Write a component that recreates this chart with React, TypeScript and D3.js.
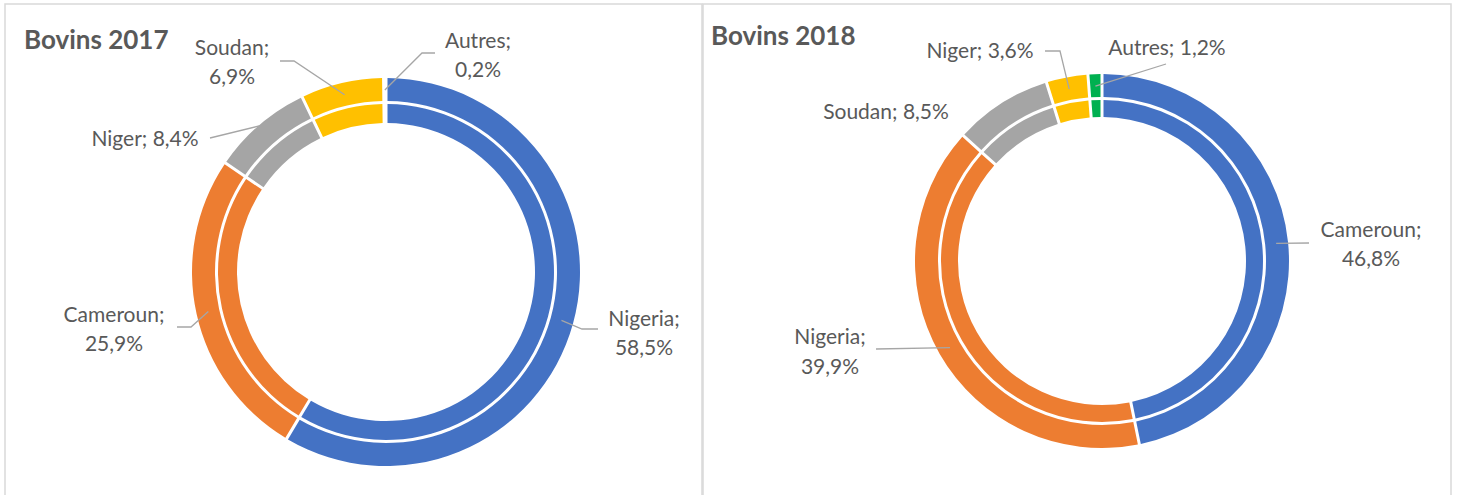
import React from "react";
import * as d3 from "d3";

// ---- Data ----
const categories2017 = ["Nigeria", "Cameroun", "Niger", "Soudan", "Autres"];
const values2017 = [58.5, 25.9, 8.4, 6.9, 0.2];
const labels2017 = ["58,5%", "25,9%", "8,4%", "6,9%", "0,2%"];

const categories2018 = ["Cameroun", "Nigeria", "Soudan", "Niger", "Autres"];
const values2018 = [46.8, 39.9, 8.5, 3.6, 1.2];
const labels2018 = ["46,8%", "39,9%", "8,5%", "3,6%", "1,2%"];

const titles = ["Bovins 2017", "Bovins 2018"];

// ---- Styles / layout ----
const sliceColors = ["#4472C4", "#ED7D31", "#A5A5A5", "#FFC000", "#00B050"];
const textColor = "#595959";
const leaderColor = "#A6A6A6";
const font = "Lato, 'Open Sans', sans-serif";

type LabelLayout = {
  x: number;
  ys: number[];
  twoLines: boolean;
  leader: [number, number][] | null;
  leaderR?: number;
};

const panels = [
  {
    x0: 5, x1: 702, cx: 386, cy: 272,
    outer: [171, 194], inner: [149, 168], leaderR: 182,
    titleX: 24, titleY: 49,
    categories: categories2017, values: values2017, pct: labels2017,
    layout: [
      { x: 644, ys: [326, 355], twoLines: true, leader: [[598, 329], [582, 329]] },
      { x: 114, ys: [322, 351], twoLines: true, leader: [[177, 327], [191, 327]] },
      { x: 145, ys: [146], twoLines: false, leader: [[210, 138]], leaderR: 193 },
      { x: 232, ys: [55, 84], twoLines: true, leader: [[280, 61], [294, 61]] },
      { x: 478, ys: [48, 77], twoLines: true, leader: [[435, 53], [422, 53]] },
    ] as LabelLayout[],
  },
  {
    x0: 703, x1: 1451, cx: 1102, cy: 261,
    outer: [164, 187], inner: [144, 161], leaderR: 175,
    titleX: 711, titleY: 45,
    categories: categories2018, values: values2018, pct: labels2018,
    layout: [
      { x: 1371, ys: [237, 266], twoLines: true, leader: [[1309, 243]] },
      { x: 830, ys: [344, 374], twoLines: true, leader: [[876, 349]] },
      { x: 886, ys: [119], twoLines: false, leader: null },
      { x: 980, ys: [58], twoLines: false, leader: [[1045, 51], [1060, 51]] },
      { x: 1167, ys: [55], twoLines: false, leader: [[1166, 64]] },
    ] as LabelLayout[],
  },
];

function Donut({ p }: { p: (typeof panels)[number] }) {
  const pie = d3
    .pie<number>()
    .sort(null)
    .value((d) => d);
  const arcsData = pie(p.values);
  const R = p.outer[1];
  const outerArc = d3
    .arc<d3.PieArcDatum<number>>()
    .innerRadius(p.outer[0])
    .outerRadius(p.outer[1])
    .padAngle(3 / R)
    .padRadius(R);
  const innerArc = d3
    .arc<d3.PieArcDatum<number>>()
    .innerRadius(p.inner[0])
    .outerRadius(p.inner[1])
    .padAngle(3 / R)
    .padRadius(R);

  return (
    <g>
      <g transform={`translate(${p.cx},${p.cy})`}>
        {arcsData.map((a, i) => (
          <path key={"o" + i} d={outerArc(a) || ""} fill={sliceColors[i]} />
        ))}
        {arcsData.map((a, i) => (
          <path key={"i" + i} d={innerArc(a) || ""} fill={sliceColors[i]} />
        ))}
      </g>
      {arcsData.map((a, i) => {
        const L = p.layout[i];
        if (!L.leader) return null;
        const mid = (a.startAngle + a.endAngle) / 2;
        const r = L.leaderR ?? p.leaderR;
        const ex = p.cx + r * Math.sin(mid);
        const ey = p.cy - r * Math.cos(mid);
        const pts: [number, number][] = [...L.leader, [ex, ey]];
        const line = d3.line()(pts) || "";
        return (
          <path key={"l" + i} d={line} fill="none" stroke={leaderColor} strokeWidth={1.3} />
        );
      })}
      {arcsData.map((a, i) => {
        const L = p.layout[i];
        const lines = L.twoLines
          ? [p.categories[i] + ";", p.pct[i]]
          : [p.categories[i] + "; " + p.pct[i]];
        return (
          <text
            key={"t" + i}
            textAnchor="middle"
            fontFamily={font}
            fontSize={21}
            fill={textColor}
          >
            {lines.map((s, j) => (
              <tspan key={j} x={L.x} y={L.ys[j]}>
                {s}
              </tspan>
            ))}
          </text>
        );
      })}
    </g>
  );
}

export default function App() {
  return (
    <svg
      width={1457}
      height={495}
      style={{ position: "absolute", left: 0, top: 0, background: "#fff" }}
    >
      <rect x={0} y={0} width={1457} height={495} fill="#fff" />
      {panels.map((p, k) => (
        <g key={k}>
          <rect
            x={p.x0}
            y={4}
            width={p.x1 - p.x0}
            height={520}
            fill="none"
            stroke="#D9D9D9"
            strokeWidth={1.5}
          />
          <text
            x={p.titleX}
            y={p.titleY}
            fontFamily={font}
            fontWeight="bold"
            fontSize={26}
            fill={textColor}
          >
            {titles[k]}
          </text>
          <Donut p={p} />
        </g>
      ))}
    </svg>
  );
}
